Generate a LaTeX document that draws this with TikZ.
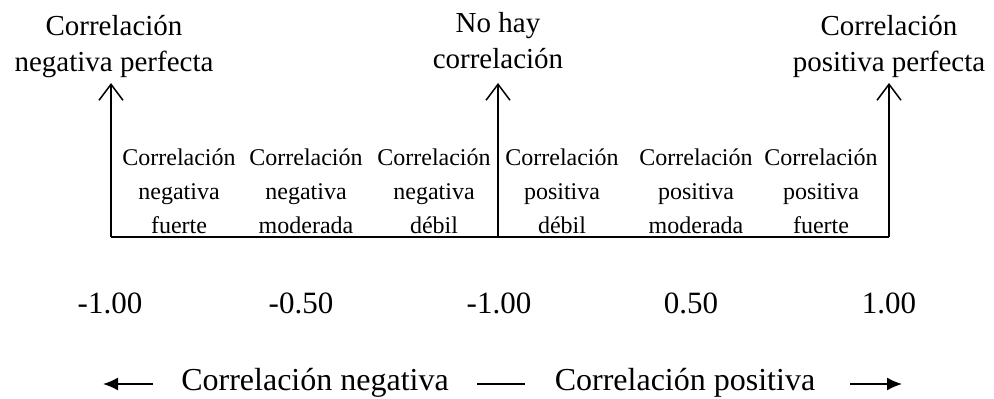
\documentclass[tikz,border=0pt]{standalone}
\usepackage{fontspec}
\setmainfont{Liberation Serif}
\usetikzlibrary{arrows.meta}

\tikzset{
  toplabel/.style={align=center, inner sep=0pt, anchor=base, font=\fontsize{29}{36}\selectfont},
  zonelabel/.style={align=center, inner sep=0pt, anchor=base, font=\fontsize{24}{34}\selectfont},
  valuelabel/.style={inner sep=0pt, anchor=base, font=\fontsize{31}{36}\selectfont},
  signlabel/.style={inner sep=0pt, anchor=base, font=\fontsize{32}{36}\selectfont},
  upper/.style={line width=1.5pt, -{Straight Barb[length=16pt,width=24pt,line width=1.5pt]}},
  sideways/.style={line width=1.5pt, -{Latex[length=15pt,width=13pt]}}
}

\begin{document}
\begin{tikzpicture}[x=1pt, y=-1pt]
  \useasboundingbox (0,0) rectangle (994,399);

  % axis and the three markers
  \coordinate (b1) at (111,237);
  \coordinate (b2) at (498,237);
  \coordinate (b3) at (889,237);
  \coordinate (t1) at (111,83);
  \coordinate (t2) at (498,83);
  \coordinate (t3) at (889,83);

  \node[toplabel] (neg) at (114,71) {Correlación\\negativa perfecta};
  \node[toplabel] (none) at (498,68) {No hay\\correlación};
  \node[toplabel] (pos) at (889,71) {Correlación\\positiva perfecta};

  \node[zonelabel] (z1) at (179,233) {Correlación\\negativa\\fuerte};
  \node[zonelabel] (z2) at (306,233) {Correlación\\negativa\\moderada};
  \node[zonelabel] (z3) at (434,233) {Correlación\\negativa\\débil};
  \node[zonelabel] (z4) at (562,233) {Correlación\\positiva\\débil};
  \node[zonelabel] (z5) at (696,233) {Correlación\\positiva\\moderada};
  \node[zonelabel] (z6) at (821,233) {Correlación\\positiva\\fuerte};

  \node[valuelabel] (v1) at (110,313) {-1.00};
  \node[valuelabel] (v2) at (301,313) {-0.50};
  \node[valuelabel] (v3) at (499,313) {-1.00};
  \node[valuelabel] (v4) at (691,313) {0.50};
  \node[valuelabel] (v5) at (889,313) {1.00};

  \node[signlabel] (sneg) at (315,390) {Correlación negativa};
  \node[signlabel] (spos) at (685,390) {Correlación positiva};

  \coordinate (l1) at (153,384);
  \coordinate (l2) at (103,384);
  \coordinate (m1) at (477,384);
  \coordinate (m2) at (525,384);
  \coordinate (r1) at (850,384);
  \coordinate (r2) at (902,384);

  \draw[line width=1.5pt] (b1) -- (b3);
  \draw[upper] (b1) -- (t1);
  \draw[upper] (b2) -- (t2);
  \draw[upper] (b3) -- (t3);

  \draw[sideways] (l1) -- (l2);
  \draw[line width=1.5pt] (m1) -- (m2);
  \draw[sideways] (r1) -- (r2);
\end{tikzpicture}
\end{document}
